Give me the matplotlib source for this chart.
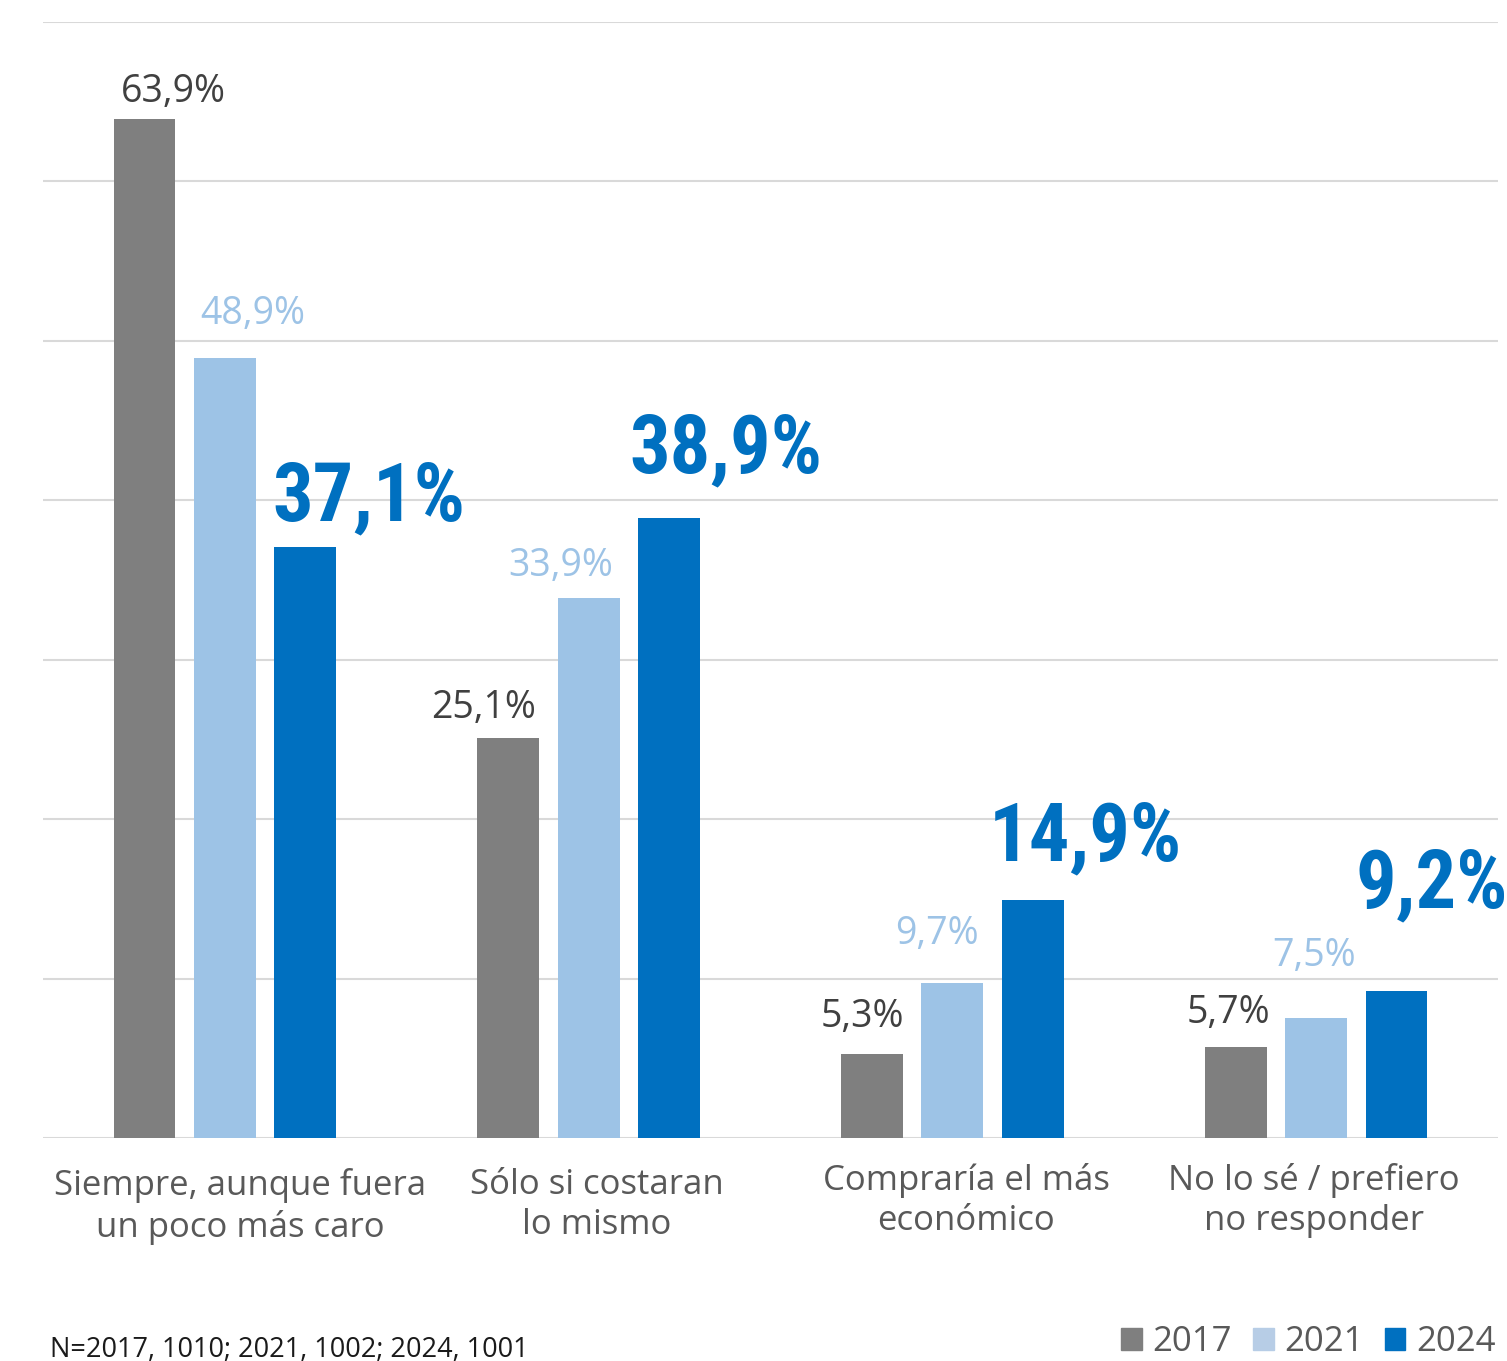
import matplotlib.pyplot as plt
from matplotlib.patches import Patch
from matplotlib import font_manager
import numpy as np

categories = [
    "Siempre, aunque fuera\nun poco más caro",
    "Sólo si costaran\nlo mismo",
    "Compraría el más\neconómico",
    "No lo sé / prefiero\nno responder",
]
years = ["2017", "2021", "2024"]
values_2017 = [63.9, 25.1, 5.3, 5.7]
values_2021 = [48.9, 33.9, 9.7, 7.5]
values_2024 = [37.1, 38.9, 14.9, 9.2]
footnote = "N=2017, 1010; 2021, 1002; 2024, 1001"

bar_colors = ["#7F7F7F", "#9DC3E6", "#0070C0"]
legend_colors = ["#7F7F7F", "#B7CDE6", "#0070C0"]
label_colors = ["#404040", "#9DC3E6", "#0070C0"]

# label offsets in pixels (dx from bar centre, dy above bar top)
label_offsets = [
    [(29, 17), (-25, 20), (-10, 27), (-7, 24)],
    [(28, 34), (-28, 22), (-15, 39), (-2, 52)],
    [(64, 26), (57, 45), (53, 40), (35, 84)],
]
cat_offsets = [(15, 30), (8, 30), (14, 25), (-2, 25)]

names = {f.name for f in font_manager.fontManager.ttflist}
cond = [f for f in ["Roboto Condensed", "Liberation Sans Narrow"] if f in names] + ["DejaVu Sans"]

plt.rcParams["font.family"] = ["Open Sans", "DejaVu Sans"]

fig = plt.figure(figsize=(15.07, 13.61), dpi=100)
ax = fig.add_axes([43 / 1507, 223 / 1361, 1455 / 1507, 1116 / 1361])

x = np.arange(len(categories))
width = 0.170
shift = 0.221
series = [values_2017, values_2021, values_2024]

for k, vals in enumerate(series):
    ax.bar(x + (k - 1) * shift, vals, width=width, color=bar_colors[k], zorder=3)

ax.set_xlim(-0.5, 3.5)
ax.set_ylim(0, 70)
ax.set_yticks(np.arange(0, 71, 10))
ax.grid(axis="y", color="#D9D9D9", linewidth=1.5, zorder=0)
ax.tick_params(left=False, bottom=False, labelleft=False, labelbottom=False)
for s in ax.spines.values():
    s.set_visible(False)

for k, vals in enumerate(series):
    for i, v in enumerate(vals):
        txt = f"{v:.1f}%".replace(".", ",")
        dx, dy = label_offsets[k][i]
        if k == 2:
            ax.annotate(txt, (x[i] + (k - 1) * shift, v), xytext=(dx, dy),
                        textcoords="offset pixels", ha="center", va="baseline",
                        fontsize=58, fontweight="bold", family=cond,
                        color=label_colors[k], zorder=4)
        else:
            ax.annotate(txt, (x[i] + (k - 1) * shift, v), xytext=(dx, dy),
                        textcoords="offset pixels", ha="center", va="baseline",
                        fontsize=27, color=label_colors[k], zorder=4)

for i, cat in enumerate(categories):
    dx, dy = cat_offsets[i]
    ax.annotate(cat, (x[i], 0), xytext=(dx, -dy), textcoords="offset pixels",
                ha="center", va="top", fontsize=25, color="#595959",
                linespacing=1.25, annotation_clip=False)

fig.text(50 / 1507, (1361 - 1357) / 1361, footnote, fontsize=19.5,
         color="#1A1A1A", va="baseline")

handles = [Patch(color=c) for c in legend_colors]
fig.legend(handles, years, loc="lower right", bbox_to_anchor=(1497 / 1507, 0),
           ncol=3, frameon=False, fontsize=25, labelcolor="#595959",
           handlelength=0.6, handleheight=0.6, handletextpad=0.3,
           columnspacing=0.6, borderaxespad=0, borderpad=0.05)

fig.savefig("out.png", dpi=100)
